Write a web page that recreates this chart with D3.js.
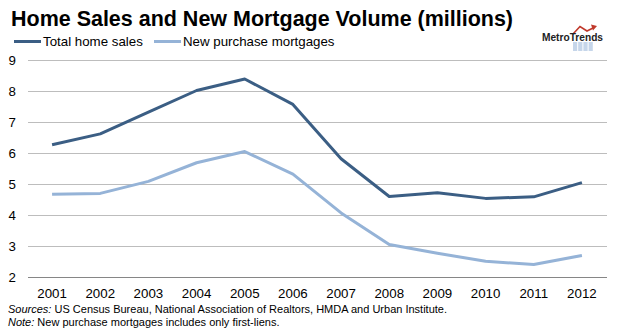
<!DOCTYPE html>
<html>
<head>
<meta charset="utf-8">
<script src="https://cdn.jsdelivr.net/npm/d3@7"></script>
<style>
  body { margin: 0; background: #fff; }
  text { font-family: "Liberation Sans", Arial, sans-serif; }
</style>
</head>
<body>
<div id="chart"></div>
<script>
const years = ["2001", "2002", "2003", "2004", "2005", "2006", "2007", "2008", "2009", "2010", "2011", "2012"];
const totalHomeSales = [6.25, 6.6, 7.3, 8.0, 8.37, 7.55, 5.8, 4.58, 4.7, 4.52, 4.57, 5.03];
const newPurchaseMortgages = [4.65, 4.68, 5.07, 5.67, 6.03, 5.3, 4.05, 3.03, 2.75, 2.49, 2.39, 2.68];
const yTicks = [2, 3, 4, 5, 6, 7, 8, 9];

const seriesList = [
    { name: "Total home sales", values: totalHomeSales, color: "#3b5e84" },
    { name: "New purchase mortgages", values: newPurchaseMortgages, color: "#95b3d7" }
];

const width = 618, height = 331;
const svg = d3.select("#chart").append("svg")
    .attr("width", width)
    .attr("height", height);

const x = d3.scaleBand().domain(years).range([28, 606]);
const y = d3.scaleLinear().domain([2, 9]).range([276.5, 59.5]);

// title
svg.append("text")
    .attr("x", 11)
    .attr("y", 26)
    .style("font-size", "22px")
    .style("font-weight", "bold")
    .attr("fill", "#000")
    .attr("textLength", 502)
    .attr("lengthAdjust", "spacingAndGlyphs")
    .text("Home Sales and New Mortgage Volume (millions)");

// legend
const legendX = [14, 154];
seriesList.forEach((s, i) => {
    const lx = legendX[i];
    svg.append("line")
        .attr("x1", lx).attr("x2", lx + 27)
        .attr("y1", 41.5).attr("y2", 41.5)
        .attr("stroke", s.color)
        .attr("stroke-width", 3);
    svg.append("text")
        .attr("x", lx + 29)
        .attr("y", 46)
        .style("font-size", "13.3px")
        .attr("fill", "#000")
        .text(s.name);
});

// logo
const logo = svg.append("g");
[0, 1, 2, 3].forEach(i => {
    logo.append("rect")
        .attr("x", 573 + i * 5.2).attr("y", 42)
        .attr("width", 4.2).attr("height", 9)
        .attr("fill", "#c6d6ea");
});
logo.append("path")
    .attr("d", "M573,34 L580,26.5 L587,31 L594,27.5")
    .attr("fill", "none")
    .attr("stroke", "#c0392b")
    .attr("stroke-width", 1.6);
logo.append("path")
    .attr("d", "M591,24.5 L597,26 L593,30.5 Z")
    .attr("fill", "#c0392b");
logo.append("text")
    .attr("x", 542)
    .attr("y", 41)
    .style("font-size", "11.5px")
    .style("font-weight", "bold")
    .attr("textLength", 61)
    .attr("lengthAdjust", "spacingAndGlyphs")
    .attr("fill", "#222")
    .text("MetroTrends");

// gridlines
svg.append("g")
    .selectAll("line")
    .data(yTicks)
    .enter().append("line")
    .attr("x1", 28).attr("x2", 607)
    .attr("y1", d => Math.round(y(d)) + 0.5)
    .attr("y2", d => Math.round(y(d)) + 0.5)
    .attr("stroke", d => d === 2 ? "#868686" : "#bdbdbd")
    .attr("stroke-width", 1);

// y labels
svg.append("g")
    .selectAll("text")
    .data(yTicks)
    .enter().append("text")
    .attr("x", 16)
    .attr("y", d => y(d) + 5)
    .attr("text-anchor", "end")
    .style("font-size", "13.3px")
    .attr("fill", "#000")
    .text(d => d);

// x labels
svg.append("g")
    .selectAll("text")
    .data(years)
    .enter().append("text")
    .attr("x", d => x(d) + x.bandwidth() / 2)
    .attr("y", 298)
    .attr("text-anchor", "middle")
    .style("font-size", "13.3px")
    .attr("fill", "#000")
    .text(d => d);

// lines
const line = d3.line()
    .x((d, i) => x(years[i]) + x.bandwidth() / 2)
    .y(d => y(d));

seriesList.slice().reverse().forEach(s => {
    svg.append("path")
        .datum(s.values)
        .attr("d", line)
        .attr("fill", "none")
        .attr("stroke", s.color)
        .attr("stroke-width", 3)
        .attr("stroke-linejoin", "round");
});

// footnotes
const src = svg.append("text")
    .attr("x", 8).attr("y", 313)
    .style("font-size", "11px")
    .attr("fill", "#000");
src.append("tspan").style("font-style", "italic").text("Sources:");
src.append("tspan").text(" US Census Bureau, National Association of Realtors, HMDA and Urban Institute.");

const note = svg.append("text")
    .attr("x", 8).attr("y", 326)
    .style("font-size", "11px")
    .attr("fill", "#000");
note.append("tspan").style("font-style", "italic").text("Note:");
note.append("tspan").text(" New purchase mortgages includes only first-liens.");
</script>
</body>
</html>
